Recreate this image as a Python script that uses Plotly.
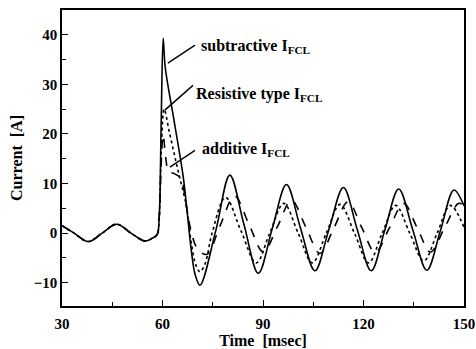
import plotly.graph_objects as go

# Current before the fault (shared by all three cases), msec / A
t_pre = [30.0, 33.6, 37.8, 42.0, 46.3, 50.6, 54.8, 57.0, 58.4]
i_pre = [1.5, 0.0, -1.7, 0.0, 1.8, 0.0, -1.6, -1.0, -0.3]

# Subtractive FCL
t_sub = [59.0, 59.6, 60.2, 60.8, 63.5, 66.2, 67.4, 68.6, 69.8, 71.2, 75.9, 80.1,
         84.3, 88.6, 92.8, 97.0, 101.2, 105.5, 109.7, 114.0, 118.1, 122.3, 126.4,
         130.5, 134.7, 138.9, 143.0, 147.0, 150.0]
i_sub = [3.0, 22.0, 39.3, 33.5, 22.5, 11.3, 4.0, -3.5, -8.5, -10.5, 0.5, 11.7,
         1.8, -8.1, 1.0, 9.8, 1.0, -7.6, 0.8, 9.2, 0.8, -7.6, 0.7,
         8.9, 0.7, -7.5, 0.6, 8.7, 5.5]

# Resistive type FCL
t_res = [59.0, 59.7, 60.5, 62.0, 64.5, 67.2, 68.6, 70.0, 71.2, 72.8, 74.8, 78.8,
         83.4, 88.0, 92.0, 96.2, 100.5, 104.7, 108.9, 113.0, 117.3, 121.5, 125.6,
         129.6, 133.8, 138.0, 142.0, 145.9, 150.0]
i_res = [3.0, 18.0, 25.0, 20.5, 13.0, 5.2, -2.0, -6.5, -7.8, -6.0, 0.0, 7.2,
         0.5, -6.0, 0.0, 6.0, 0.0, -6.0, 0.0, 5.8, 0.0, -6.0, 0.0,
         5.6, 0.0, -5.6, 0.0, 5.6, 1.2]

# Additive FCL
t_add = [59.0, 59.6, 60.2, 61.0, 61.8, 63.5, 65.5, 67.0, 68.5, 70.3, 73.2, 77.2,
         81.5, 85.8, 90.1, 94.3, 98.5, 102.8, 107.0, 111.2, 115.4, 119.5, 123.5,
         127.7, 132.0, 136.0, 140.0, 144.2, 148.4, 150.0]
i_add = [3.0, 14.0, 19.8, 15.0, 12.5, 12.0, 11.0, 6.0, 0.5, -3.0, -4.3, 1.5,
         7.5, 1.8, -3.8, 1.3, 6.6, 1.2, -4.1, 1.1, 6.3, 1.1, -3.9,
         1.0, 6.0, 1.1, -3.8, 1.1, 6.0, 5.5]

x_ticks = [30, 60, 90, 120, 150]
y_ticks = [-10, 0, 10, 20, 30, 40]

FONT = "Liberation Serif"

fig = go.Figure()
fig.add_trace(go.Scatter(x=t_pre + t_res, y=i_pre + i_res, mode="lines",
                         line=dict(color="black", width=1.6, dash="dot", shape="spline")))
fig.add_trace(go.Scatter(x=t_pre + t_add, y=i_pre + i_add, mode="lines",
                         line=dict(color="black", width=1.6, dash="dash", shape="spline")))
fig.add_trace(go.Scatter(x=t_pre + t_sub, y=i_pre + i_sub, mode="lines",
                         line=dict(color="black", width=1.6, shape="spline")))

# Leader lines from the labels to the curves
leaders = [((69.7, 37.9), (61.6, 34.3)),
           ((69.1, 29.8), (60.7, 24.8)),
           ((69.7, 16.7), (62.2, 13.3))]
for (x0, y0), (x1, y1) in leaders:
    fig.add_shape(type="line", xref="x", yref="y", x0=x0, y0=y0, x1=x1, y1=y1,
                  line=dict(color="black", width=1.4))

labels = [("subtractive I<sub>FCL</sub>", 70.9, 37.6),
          ("Resistive type I<sub>FCL</sub>", 69.3, 28.0),
          ("additive I<sub>FCL</sub>", 71.2, 16.8)]
for text, x, y in labels:
    fig.add_annotation(text=text, x=x, y=y, xref="x", yref="y", showarrow=False,
                       xanchor="left", yanchor="middle",
                       font=dict(family=FONT, size=16, color="black", weight="bold"))

axis_common = dict(showgrid=False, zeroline=False, showline=True, linecolor="black",
                   linewidth=1.6, mirror=True, ticks="inside", ticklen=6, tickwidth=1.2,
                   tickcolor="black", automargin=False,
                   tickfont=dict(family=FONT, size=15, color="black", weight="bold"))

fig.update_xaxes(range=[30, 150], tickvals=x_ticks,
                 minor=dict(ticks="inside", ticklen=4, tickcolor="black", dtick=15, tick0=30),
                 ticklabelstandoff=3,
                 title=dict(text="Time  [msec]", standoff=6,
                            font=dict(family=FONT, size=16, color="black", weight="bold")),
                 **axis_common)
fig.update_yaxes(range=[-14.7, 45], tickvals=y_ticks,
                 minor=dict(ticks="inside", ticklen=4, tickcolor="black", dtick=5, tick0=0),
                 title=dict(text="Current  [A]", standoff=7,
                            font=dict(family=FONT, size=16, color="black", weight="bold")),
                 **axis_common)

fig.update_layout(width=476, height=349, autosize=False, showlegend=False,
                  margin=dict(l=62, r=12, t=10, b=43),
                  plot_bgcolor="white", paper_bgcolor="white")

fig.write_html("out.html")
